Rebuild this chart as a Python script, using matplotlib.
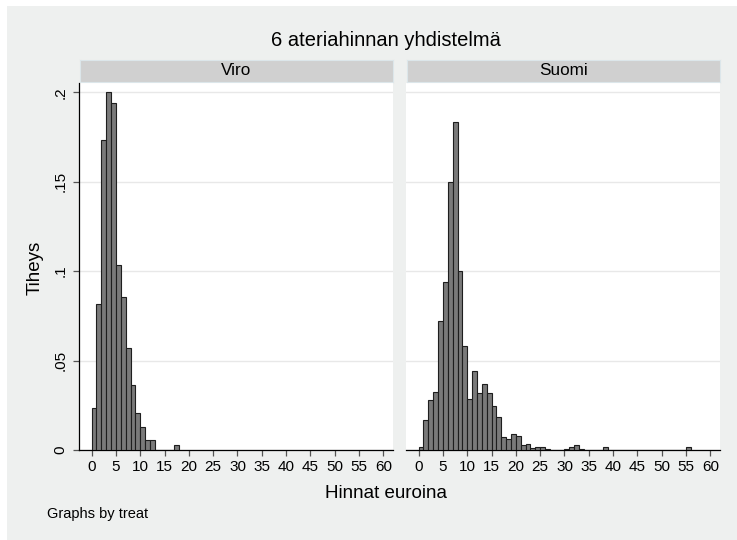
import numpy as np
import matplotlib
matplotlib.use("Agg")
import matplotlib.pyplot as plt
from matplotlib.patches import Rectangle

plt.rcParams['font.family'] = ['Liberation Sans', 'DejaVu Sans']

# histogram densities, bins of width 1 starting at 0
viro = [0.0233, 0.0815, 0.1733, 0.2004, 0.1940, 0.1033, 0.0854, 0.0569, 0.0363,
        0.0209, 0.0130, 0.0054, 0.0054, 0, 0, 0, 0, 0.0026]
suomi = [0.0015, 0.0170, 0.0280, 0.0324, 0.0720, 0.0940, 0.1497, 0.1836, 0.0999,
         0.0583, 0.0283, 0.0440, 0.0317, 0.0371, 0.0319, 0.0246, 0.0183, 0.0071,
         0.0063, 0.0091, 0.0078, 0.0026, 0.0032, 0.0009, 0.0015, 0.0015, 0.0008,
         0, 0, 0, 0.0008, 0.0015, 0.0026, 0.0008, 0, 0, 0, 0, 0.0015,
         0, 0, 0, 0, 0, 0, 0, 0, 0, 0, 0, 0, 0, 0, 0, 0, 0.0015]
panels = ["Viro", "Suomi"]
xticks = list(range(0, 61, 5))
yticks = [0, 0.05, 0.1, 0.15, 0.2]
yticklabels = ["0", ".05", ".1", ".15", ".2"]

W, H = 737, 540
bg = '#eef0ef'
fig = plt.figure(figsize=(W / 100, H / 100), dpi=100)
fig.patch.set_facecolor('white')
fig.patches.append(Rectangle((7 / W, -0.01), 1.02 - 7 / W, 1.01 - 6 / H, transform=fig.transFigure,
                             facecolor=bg, edgecolor='none', zorder=-10))

def px(x0, y0, x1, y1):
    return [x0 / W, 1 - y1 / H, (x1 - x0) / W, (y1 - y0) / H]

lefts = [79, 406]
for i, (name, vals) in enumerate(zip(panels, [viro, suomi])):
    x0 = lefts[i]
    ax = fig.add_axes(px(x0, 83, x0 + 314, 450))
    ax.set_facecolor('white')
    edges = np.arange(len(vals))
    ax.bar(edges, vals, width=1, align='edge', color='#7a7a7a',
           edgecolor='#1e1e1e', linewidth=0.8, zorder=3)
    ax.set_xlim(-2.6, 62)
    ax.set_ylim(0, 0.2052)
    ax.set_yticks(yticks)
    ax.grid(axis='y', color='#e8e8e8', linewidth=1.0, zorder=0)
    ax.set_xticks(xticks)
    ax.tick_params(axis='x', direction='out', length=4.5, width=0.9, color='#555555',
                   labelsize=11, pad=2.5)
    for s in ['top', 'right']:
        ax.spines[s].set_visible(False)
    ax.spines['bottom'].set_linewidth(0.9)
    if i == 0:
        ax.set_yticklabels(yticklabels)
        ax.tick_params(axis='y', direction='out', length=4.5, width=0.9, color='#555555',
                       labelsize=11, pad=4, labelrotation=90)
        for lab in ax.get_yticklabels():
            lab.set_va('center')
        ax.spines['left'].set_linewidth(0.9)
    else:
        ax.tick_params(axis='y', length=0, labelleft=False)
        ax.spines['left'].set_visible(False)
    # strip label
    sax = fig.add_axes(px(x0 + 1, 59.5, x0 + 314, 82.3))
    sax.set_xticks([])
    sax.set_yticks([])
    sax.set_facecolor('#d0d0d0')
    for s in sax.spines.values():
        s.set_color('#dce6ea')
        s.set_linewidth(0.8)
    sax.text(0.5, 0.5, name, ha='center', va='center', fontsize=12.3, transform=sax.transAxes)

fig.text(386 / W, 1 - 40 / H, "6 ateriahinnan yhdistelmä", ha='center', va='center', fontsize=14.5)
fig.text(386 / W, 1 - 494 / H, "Hinnat euroina", ha='center', va='center', fontsize=13.5)
fig.text(35.5 / W, 1 - 268 / H, "Tiheys", ha='center', va='center', rotation=90, fontsize=13.5)
fig.text(47 / W, 1 - 514 / H, "Graphs by treat", ha='left', va='center', fontsize=10.5)

fig.savefig("out.png", dpi=100, facecolor=fig.get_facecolor())
